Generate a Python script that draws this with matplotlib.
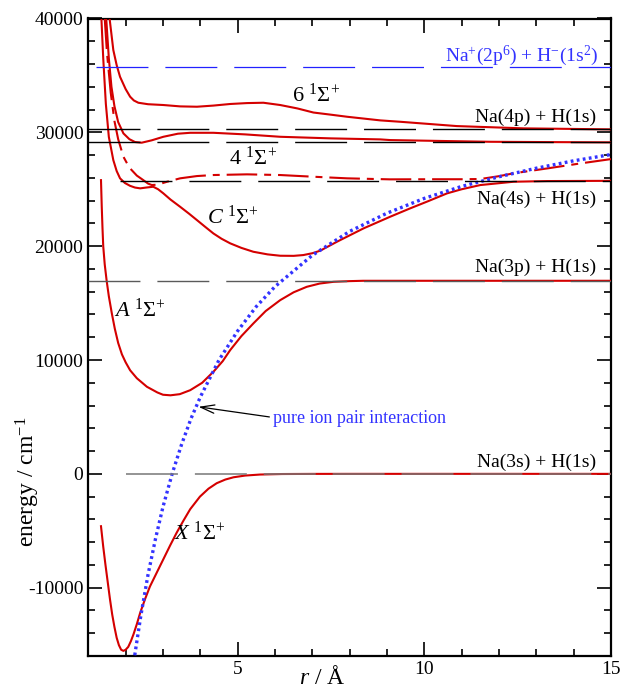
import numpy as np
import matplotlib
matplotlib.use('Agg')
import matplotlib.pyplot as plt

plt.rcParams['font.family'] = ['Liberation Serif', 'DejaVu Serif']
plt.rcParams['mathtext.fontset'] = 'custom'
plt.rcParams['mathtext.rm'] = 'Liberation Serif'
plt.rcParams['mathtext.it'] = 'Liberation Serif:italic'
plt.rcParams['mathtext.bf'] = 'Liberation Serif:bold'
plt.rcParams['axes.unicode_minus'] = False
plt.rcParams['lines.scale_dashes'] = False

# ---------------- data (r in Angstrom, energy in cm^-1) ----------------
X_r = [1.34, 1.40, 1.46, 1.52, 1.58, 1.64, 1.70, 1.76, 1.82, 1.88, 1.94, 2.00, 2.07, 2.14,
       2.21, 2.30, 2.39, 2.52, 2.65, 2.83, 3.01, 3.19, 3.37, 3.55, 3.73, 3.99, 4.22, 4.44,
       4.67, 4.89, 5.2, 5.6, 6.2, 7.0, 8.0, 15.0]
X_E = [-4600, -6400, -8000, -9500, -11000, -12350, -13450, -14400, -15050, -15450, -15550,
       -15450, -15200, -14700, -14100, -13200, -12200, -11000, -9900, -8700, -7500, -6300,
       -5150, -4100, -3100, -2000, -1300, -820, -500, -300, -150, -60, -15, -3, 0, 0]

A_r = [1.34, 1.36, 1.38, 1.40, 1.44, 1.49, 1.55, 1.63, 1.71, 1.80, 1.90, 2.00, 2.12, 2.30,
       2.57, 2.85, 3.0, 3.2, 3.45, 3.73, 4.05, 4.36, 4.6, 4.8, 5.1, 5.42, 5.75, 6.14, 6.5,
       6.85, 7.2, 7.57, 8.0, 8.36, 9.0, 15.0]
A_E = [25800, 23500, 21600, 20000, 18400, 17000, 15600, 14100, 12750, 11500, 10500, 9800,
       9100, 8400, 7650, 7150, 6950, 6900, 7000, 7350, 8000, 9000, 9900, 10870, 12100, 13210,
       14300, 15260, 15950, 16430, 16720, 16870, 16930, 16960, 16960, 16960]

C_r = [1.33, 1.40, 1.47, 1.55, 1.67, 1.76, 1.85, 1.98, 2.12, 2.25, 2.39, 2.55, 2.74, 2.87,
       3.01, 3.2, 3.46, 3.7, 3.91, 4.13, 4.35, 4.57, 4.80, 5.1, 5.42, 5.8, 6.14, 6.5, 6.76,
       7.0, 7.21, 7.66, 8.37, 9.08, 9.62, 10.1, 10.61, 11.0, 11.5, 12.39, 13.29, 15.0]
C_E = [41500, 36500, 32500, 29600, 27560, 26600, 25960, 25550, 25300, 25150, 25080, 25150,
       25220, 25000, 24640, 24100, 23460, 22850, 22290, 21700, 21120, 20650, 20250, 19850,
       19510, 19280, 19160, 19150, 19220, 19380, 19600, 20390, 21560, 22580, 23320, 23950,
       24640, 25000, 25370, 25660, 25720, 25740]

S4_r = [1.44, 1.50, 1.60, 1.70, 1.80, 1.94, 2.10, 2.30, 2.47, 2.60, 2.70, 2.85, 3.11, 3.46,
        3.91, 4.35, 5.25, 6.14, 7.03, 7.93, 9.08, 10.16, 11.0, 11.5, 12.0, 12.39, 13.29,
        14.18, 15.0]
S4_E = [40000, 37000, 33500, 31000, 29400, 27860, 26900, 26200, 25810, 25500, 25370, 25400,
        25660, 25960, 26160, 26250, 26310, 26250, 26100, 25960, 25870, 25880, 25880, 25900,
        26150, 26400, 26830, 27270, 27650]

S5_r = [1.48, 1.55, 1.62, 1.70, 1.80, 1.94, 2.10, 2.25, 2.43, 2.70, 3.01, 3.40, 3.73, 4.35,
        5.2, 6.14, 7.5, 8.82, 9.09, 10.5, 11.77, 13.5, 15.0]
S5_E = [40000, 36500, 34000, 32300, 30900, 29910, 29400, 29150, 29090, 29300, 29610, 29880,
        29960, 29960, 29820, 29610, 29470, 29380, 29320, 29240, 29170, 29140, 29120]

S6_r = [1.57, 1.67, 1.76, 1.85, 2.00, 2.12, 2.22, 2.34, 2.60, 3.01, 3.46, 3.91, 4.35, 4.80,
        5.25, 5.69, 6.14, 6.6, 7.03, 7.5, 7.93, 8.82, 9.35, 10.87, 12.66, 15.0]
S6_E = [40000, 37230, 35900, 34880, 33800, 33130, 32800, 32600, 32470, 32400, 32280, 32250,
        32350, 32490, 32570, 32600, 32400, 32100, 31740, 31550, 31370, 31050, 30930, 30550,
        30350, 30260]

ion_r = [2.20, 2.25, 2.40, 2.60, 2.80, 3.00, 3.25, 3.50, 3.75, 4.00, 4.50, 5.00, 5.50, 6.00,
         7.00, 8.00, 9.00, 10.0, 11.0, 12.0, 13.0, 14.0, 15.0]
ion_E = [-17000, -15800, -12600, -8850, -5700, -2900, 50, 2600, 4850, 6750, 10000, 12550,
         14700, 16450, 19200, 21300, 22900, 24200, 25250, 26100, 26850, 27500, 28050]

asym_names = ['Na$^{+}$(2p$^{6}$) + H$^{-}$(1s$^{2}$)', 'Na(4p) + H(1s)', 'Na(3d)',
              'Na(4s) + H(1s)', 'Na(3p) + H(1s)', 'Na(3s) + H(1s)']
asym_E = [35740, 30270, 29170, 25740, 16960, 0]

state_labels = ['$6\\ ^{1}\\Sigma^{+}$', '$4\\ ^{1}\\Sigma^{+}$', '$C\\ ^{1}\\Sigma^{+}$',
                '$A\\ ^{1}\\Sigma^{+}$', '$X\\ ^{1}\\Sigma^{+}$']

# ---------------- styling / positions ----------------
RED = '#d40000'
BLUE = '#3333ff'
W, H = 623, 692
fig = plt.figure(figsize=(W / 100, H / 100), dpi=100)
ax = fig.add_axes([88.3 / W, 1 - 656 / H, (611 - 88.3) / W, (656 - 18.5) / H])

# red curves
ax.plot(X_r, X_E, color=RED, lw=1.5, zorder=3)
ax.plot(A_r, A_E, color=RED, lw=1.5, zorder=3)
ax.plot(C_r, C_E, color=RED, lw=1.5, zorder=3)
ax.plot(S5_r, S5_E, color=RED, lw=1.5, zorder=3)
ax.plot(S6_r, S6_E, color=RED, lw=1.5, zorder=3)
ax.plot(S4_r, S4_E, color=RED, lw=1.5, zorder=3, dashes=(22, 5, 5, 5))

# ion-pair dotted
ax.plot(ion_r, ion_E, color=BLUE, lw=2.4, dashes=(2.0, 2.4), zorder=4)

# asymptotes
asym_colors = ['#2222ff', 'black', 'black', 'black', '#5a5a5a', '#777777']
asym_start = [1.21, 1.0, 1.0, 1.84, 1.0, 2.01]
asym_lw = [0.9, 1.0, 1.0, 1.0, 1.0, 1.1]
for E, c, x0, lw in zip(asym_E, asym_colors, asym_start, asym_lw):
    ax.plot([x0, 15.0], [E, E], color=c, lw=lw, dashes=(37.4, 12.2), zorder=5)

# asymptote labels
fs = 14
ax.text(14.65, 36700, asym_names[0], color=BLUE, fontsize=fs, ha='right', va='center')
ax.text(14.6, 31330, asym_names[1], color='black', fontsize=fs, ha='right', va='center')
ax.text(14.6, 24150, asym_names[3], color='black', fontsize=fs, ha='right', va='center')
ax.text(14.6, 18100, asym_names[4], color='black', fontsize=fs, ha='right', va='center')
ax.text(14.6, 1050, asym_names[5], color='black', fontsize=fs, ha='right', va='center')

# state labels
sfs = 16
ax.text(7.10, 33300, state_labels[0], fontsize=sfs, ha='center', va='center')
ax.text(5.41, 27750, state_labels[1], fontsize=sfs, ha='center', va='center')
ax.text(4.88, 22560, state_labels[2], fontsize=sfs, ha='center', va='center')
ax.text(2.39, 14360, state_labels[3], fontsize=sfs, ha='center', va='center')
ax.text(3.97, -5220, state_labels[4], fontsize=sfs, ha='center', va='center')

# annotation
ax.annotate('', xy=(3.95, 5890), xytext=(5.85, 5000),
            arrowprops=dict(arrowstyle='->,head_length=1.0,head_width=0.3', color='black',
                            lw=0.9, shrinkA=0, shrinkB=0))
ax.text(5.95, 4890, 'pure ion pair interaction', color=BLUE, fontsize=13,
        ha='left', va='center')

# axes
ax.set_xlim(1, 15)
ax.set_ylim(-16000, 40000)
ax.set_xticks([5, 10, 15])
ax.set_xticks(np.arange(1, 16, 1), minor=True)
ax.set_yticks([-10000, 0, 10000, 20000, 30000, 40000])
ax.set_yticks(np.arange(-16000, 40001, 2000), minor=True)
ax.tick_params(which='both', direction='in', top=True, right=True, labelsize=14, width=1.2)
ax.tick_params(which='major', length=10)
ax.tick_params(which='minor', length=5)
for s in ax.spines.values():
    s.set_linewidth(1.6)

fig.text(322 / W, 1 - 677 / H, '$r$ / Å', fontsize=17, ha='center', va='center')
fig.text(28 / W, 1 - 482 / H, 'energy / cm$^{-1}$', fontsize=17, rotation=90,
         ha='center', va='center')

fig.savefig('out.png', dpi=100)
